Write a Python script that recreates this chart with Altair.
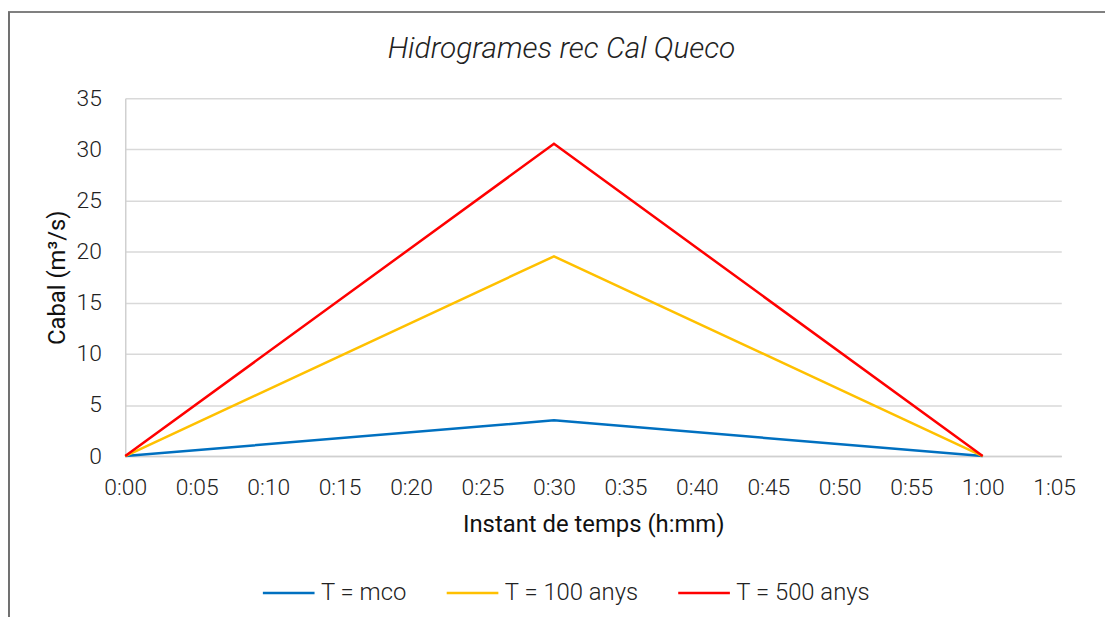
import altair as alt
import pandas as pd

minutes = [0, 30, 60]
series_names = ["T = mco", "T = 100 anys", "T = 500 anys"]
q_mco = [0, 3.5, 0]
q_100 = [0, 19.55, 0]
q_500 = [0, 30.55, 0]
colors = ["#0070C0", "#FFC000", "#FF0000"]

rows = []
for name, vals in zip(series_names, [q_mco, q_100, q_500]):
    for m, v in zip(minutes, vals):
        rows.append({"t": m, "q": v, "serie": name})
df = pd.DataFrame(rows)

FONT = "Roboto"

lines = alt.Chart(df).mark_line(strokeWidth=2.5).encode(
    x=alt.X("t:Q",
            scale=alt.Scale(domain=[0, 65.5], nice=False),
            axis=alt.Axis(values=list(range(0, 66, 5)),
                          labelExpr="floor(datum.value/60) + ':' + (datum.value%60 < 10 ? '0' : '') + (datum.value%60)",
                          title="Instant de temps (h:mm)",
                          grid=False, ticks=False, domainColor="#d0d0d0", domainWidth=1.5,
                          labelPadding=21, titlePadding=13, labelFlush=False)),
    y=alt.Y("q:Q",
            scale=alt.Scale(domain=[0, 35], nice=False),
            axis=alt.Axis(values=list(range(0, 36, 5)), title="Cabal (m³/s)",
                          grid=True, gridColor="#d9d9d9", gridWidth=1.5,
                          ticks=False, domainColor="#d0d0d0", domainWidth=1.5,
                          labelPadding=24, titlePadding=7)),
    color=alt.Color("serie:N",
                    scale=alt.Scale(domain=series_names, range=colors),
                    sort=series_names,
                    legend=alt.Legend(title=None, orient="none", direction="horizontal",
                                      legendX=137, legendY=470,
                                      symbolType="stroke", symbolSize=2704,
                                      symbolStrokeWidth=2.5, labelOffset=5,
                                      columnPadding=34, padding=0,
                                      labelFontSize=24, labelFont=FONT,
                                      labelFontWeight=300, labelColor="#222222")),
)

frame = pd.DataFrame({"k": [0]})
top_border = alt.Chart(frame).mark_rule(color="#808080", strokeWidth=2).encode(
    x=alt.value(-118), x2=alt.value(987), y=alt.value(-87))
left_border = alt.Chart(frame).mark_rule(color="#707070", strokeWidth=2).encode(
    x=alt.value(-117), y=alt.value(-87), y2=alt.value(530))

chart = alt.layer(top_border, left_border, lines).properties(
    width=942, height=360,
    title=alt.TitleParams("Hidrogrames rec Cal Queco", font=FONT, fontSize=30,
                          fontStyle="italic", fontWeight=300, color="#222222",
                          offset=-53, dx=-32),
    autosize=alt.AutoSizeParams(type="none"),
    padding={"left": 118, "top": 89, "right": 44, "bottom": 160},
).configure_view(stroke=None).configure_axis(
    labelFont=FONT, labelFontSize=23, labelFontWeight=300, labelColor="#222222",
    titleFont=FONT, titleFontSize=24, titleFontWeight=400, titleColor="#111111",
)

chart.save("out.html", embed_options={"renderer": "svg", "actions": False})
